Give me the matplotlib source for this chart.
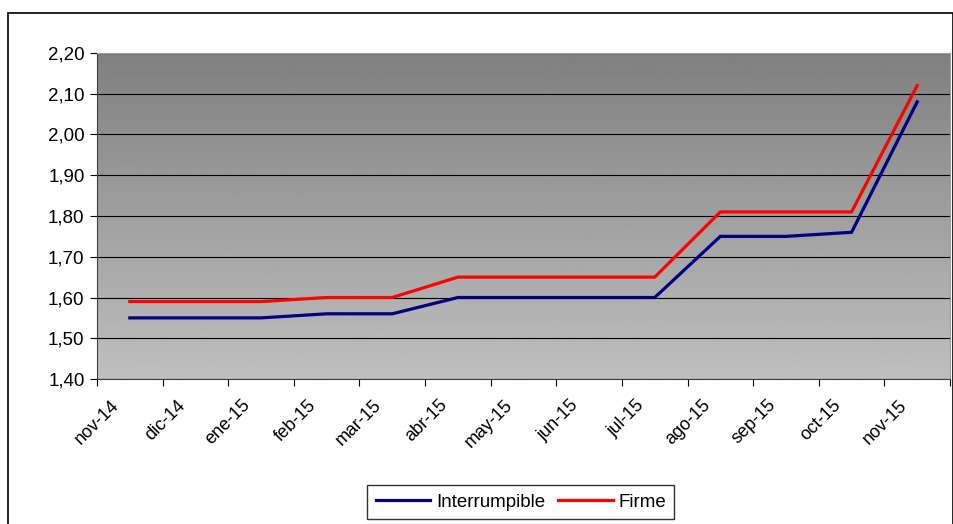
# Tarifas mensuales: Interrumpible vs Firme

import numpy as np
import matplotlib.pyplot as plt
from matplotlib.patches import Rectangle
from matplotlib.ticker import FuncFormatter
from matplotlib.transforms import ScaledTranslation

plt.rcParams["font.family"] = ["Liberation Sans", "DejaVu Sans"]

meses = ["nov-14", "dic-14", "ene-15", "feb-15", "mar-15", "abr-15", "may-15",
         "jun-15", "jul-15", "ago-15", "sep-15", "oct-15", "nov-15"]
interrumpible = [1.55, 1.55, 1.55, 1.56, 1.56, 1.60, 1.60, 1.60, 1.60, 1.75, 1.75, 1.76, 2.08]
firme = [1.59, 1.59, 1.59, 1.60, 1.60, 1.65, 1.65, 1.65, 1.65, 1.81, 1.81, 1.81, 2.12]

fig = plt.figure(figsize=(9.54, 5.24), dpi=100)
ax = fig.add_axes([0.1017, 0.2767, 0.8941, 0.6222])

x = np.arange(len(meses))

# fondo degradado: gris oscuro arriba, gris claro abajo
grad = np.linspace(0.5, 0.75, 256).reshape(-1, 1)
ax.imshow(grad, extent=[0, 1, 0, 1], transform=ax.transAxes, cmap="gray",
          vmin=0, vmax=1, aspect="auto", zorder=0)

ax.plot(x, interrumpible, color="#000080", lw=2.3, label="Interrumpible", zorder=3,
        solid_joinstyle="miter")
ax.plot(x, firme, color="#ff0000", lw=2.3, label="Firme", zorder=3,
        solid_joinstyle="miter")

ax.set_xlim(-0.5, len(meses) - 0.5)
ax.set_ylim(1.40, 2.20)
ax.set_yticks(np.arange(1.40, 2.21, 0.10))
ax.yaxis.set_major_formatter(FuncFormatter(lambda v, p: f"{v:.2f}".replace(".", ",")))
ax.grid(axis="y", color="black", lw=0.8, zorder=1)

# marcas en los limites de categoria, etiquetas en el centro
ax.set_xticks(np.arange(-0.5, len(meses), 1.0))
ax.set_xticklabels([])
ax.set_xticks(x, minor=True)
ax.set_xticklabels(meses, minor=True, rotation=45, ha="right", va="center",
                   rotation_mode="anchor", fontsize=13)
ax.tick_params(axis="x", which="minor", length=0, pad=17)
ax.tick_params(axis="x", which="major", length=5, color="black", direction="out")
ax.tick_params(axis="y", length=5, labelsize=13.5, direction="out", pad=4)
shift = ScaledTranslation(-0.13, 0, fig.dpi_scale_trans)
for lab in ax.get_xticklabels(minor=True):
    lab.set_transform(lab.get_transform() + shift)

for side in ["top", "right"]:
    ax.spines[side].set_color("#a0a0a0")
for side in ["left", "bottom"]:
    ax.spines[side].set_color("#404040")

# marco exterior del grafico
fig.patches.append(Rectangle((8 / 954, -0.01), 945 / 954, 1 - 13 / 524 + 0.01,
                             transform=fig.transFigure, fill=False,
                             edgecolor="black", lw=1.2))

leg = fig.legend(loc="center", bbox_to_anchor=(0.546, 0.042), ncol=2, fontsize=13.5,
                 frameon=True, fancybox=False, edgecolor="black", handlelength=2.9,
                 handletextpad=0.3, columnspacing=0.7, borderpad=0.45)
leg.get_frame().set_linewidth(1.0)

fig.savefig("out.png", dpi=100)
